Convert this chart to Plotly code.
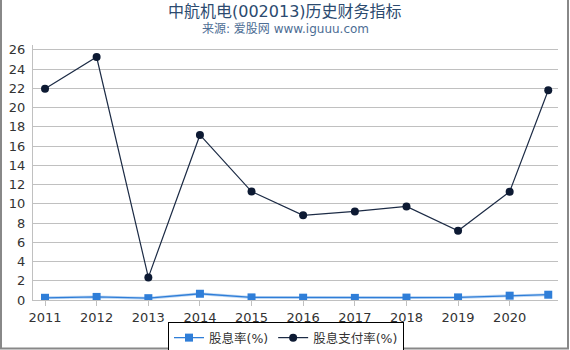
import plotly.graph_objects as go

dates = ["2011-01-01", "2012-01-01", "2013-01-01", "2014-01-01", "2015-01-01",
         "2016-01-01", "2017-01-01", "2018-01-01", "2019-01-01", "2020-01-01", "2020-09-30"]
dividend_yield = [0.23, 0.32, 0.19, 0.65, 0.27, 0.24, 0.22, 0.25, 0.27, 0.45, 0.55]
payout_ratio = [21.95, 25.25, 2.35, 17.15, 11.27, 8.8, 9.2, 9.72, 7.2, 11.25, 21.8]
tick_vals = ["2011-01-01", "2012-01-01", "2013-01-01", "2014-01-01", "2015-01-01",
             "2016-01-01", "2017-01-01", "2018-01-01", "2019-01-01", "2020-01-01"]
tick_text = ["2011", "2012", "2013", "2014", "2015", "2016", "2017", "2018", "2019", "2020"]
y_ticks = list(range(0, 27, 2))

W, H = 570, 350
L, R, T, B = 33, 12, 45, 50
pw, ph = W - L - R, H - T - B

def px(x):
    return (x - L) / pw

def py(y):
    return (H - B - y) / ph

font_main = "DejaVu Sans, Noto Sans CJK SC, sans-serif"

fig = go.Figure()
fig.add_trace(go.Scatter(
    x=dates, y=dividend_yield, mode="lines", showlegend=False, hoverinfo="skip",
    line=dict(color="rgba(47,126,216,0.3)", width=3)))
fig.add_trace(go.Scatter(
    x=dates, y=dividend_yield, mode="lines+markers", name="股息率(%)",
    line=dict(color="#2f7ed8", width=1.3),
    marker=dict(symbol="square", size=8, color="#2f7ed8")))
fig.add_trace(go.Scatter(
    x=dates, y=payout_ratio, mode="lines+markers", name="股息支付率(%)",
    line=dict(color="#1c2b45", width=1.2),
    marker=dict(symbol="circle", size=8, color="#0d1a33")))

fig.update_layout(
    width=W, height=H,
    margin=dict(l=L, r=R, t=T, b=B, autoexpand=False),
    paper_bgcolor="white", plot_bgcolor="white",
    font=dict(family=font_main, size=13, color="#333333"),
    xaxis=dict(
        type="date", range=["2010-10-08", "2020-12-08"],
        tickvals=tick_vals, ticktext=tick_text,
        showgrid=False, showline=True, linecolor="#c0c0c0", linewidth=1,
        ticks="outside", ticklen=5, tickcolor="#c0c0c0",
        tickfont=dict(size=13, color="#333333")),
    yaxis=dict(
        range=[0, 26.5], tickvals=y_ticks,
        showgrid=True, gridcolor="#c0c0c0", gridwidth=1,
        showline=True, linecolor="#c0c0c0", linewidth=1,
        zeroline=False, ticks="", ticklabelstandoff=4,
        tickfont=dict(size=13, color="#333333")),
    legend=dict(
        orientation="h", x=px(286), xanchor="center", y=py(322), yanchor="top",
        bordercolor="#000000", borderwidth=1, bgcolor="white",
        font=dict(size=12.5, color="#333333"), itemwidth=30, tracegroupgap=0),
    annotations=[
        dict(text="中航机电(002013)历史财务指标", xref="paper", yref="paper",
             x=px(285), y=py(11), xanchor="center", yanchor="middle", showarrow=False,
             font=dict(size=16, color="#2b4a6f", family=font_main)),
        dict(text="来源: 爱股网 www.iguuu.com", xref="paper", yref="paper",
             x=px(285), y=py(29), xanchor="center", yanchor="middle", showarrow=False,
             font=dict(size=12, color="#4d6d94", family=font_main)),
    ],
    shapes=[
        dict(type="line", xref="paper", yref="paper", x0=px(1), x1=px(1), y0=py(0), y1=py(349),
             line=dict(color="#888888", width=2)),
        dict(type="line", xref="paper", yref="paper", x0=px(568), x1=px(568), y0=py(0), y1=py(349),
             line=dict(color="#888888", width=2)),
        dict(type="line", xref="paper", yref="paper", x0=px(0), x1=px(569), y0=py(348.5), y1=py(348.5),
             line=dict(color="#888888", width=2)),
    ],
)

fig.write_html("out.html")
